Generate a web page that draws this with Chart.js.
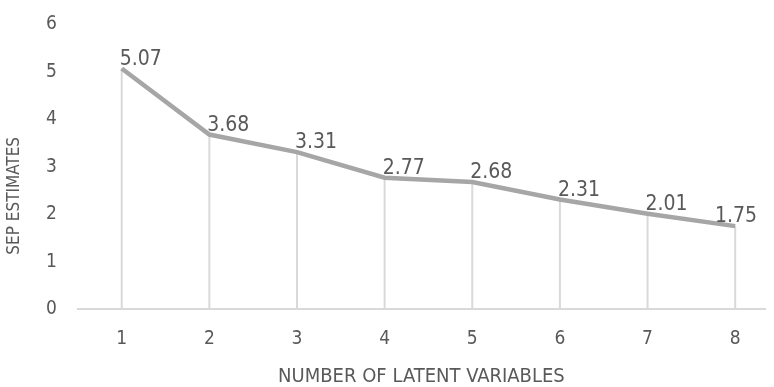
<!DOCTYPE html>
<html>
<head>
<meta charset="utf-8">
<script src="https://cdn.jsdelivr.net/npm/chart.js@4"></script>
<style>
  html, body { margin: 0; padding: 0; background: #fff; }
  #wrap { width: 774px; height: 387px; }
</style>
</head>
<body>
<div id="wrap"><canvas id="myChart" width="774" height="387"></canvas></div>
<script>
// ---- Data ----
const latentVars = [1, 2, 3, 4, 5, 6, 7, 8];
const sepValues  = [5.07, 3.68, 3.31, 2.77, 2.68, 2.31, 2.01, 1.75];
const yTicks     = [0, 1, 2, 3, 4, 5, 6];
const xTitle     = "NUMBER OF LATENT VARIABLES";
const yTitle     = "SEP ESTIMATES";

const textColor = "#595959";
const fontFam   = "'DejaVu Sans Condensed', 'DejaVu Sans', sans-serif";

// ---- Drop lines, value labels, y title ----
const dropLines = {
  id: "dropLines",
  beforeDatasetsDraw(chart) {
    const { ctx, scales: { y } } = chart;
    const meta = chart.getDatasetMeta(0);
    ctx.save();
    ctx.strokeStyle = "#d9d9d9";
    ctx.lineWidth = 2;
    meta.data.forEach(pt => {
      ctx.beginPath();
      ctx.moveTo(pt.x, pt.y);
      ctx.lineTo(pt.x, y.getPixelForValue(0));
      ctx.stroke();
    });
    ctx.restore();
  },
  afterDatasetsDraw(chart) {
    const { ctx, chartArea } = chart;
    const meta = chart.getDatasetMeta(0);
    ctx.save();
    ctx.fillStyle = textColor;
    ctx.font = "21px " + fontFam;
    ctx.textAlign = "left";
    ctx.textBaseline = "alphabetic";
    meta.data.forEach((pt, i) => {
      const txt = sepValues[i].toFixed(2);
      const w = ctx.measureText(txt).width;
      // keep the label inside the chart, like Excel does for the last point
      const lx = Math.min(pt.x - 2, chart.width - 17 - w);
      ctx.fillText(txt, lx, pt.y - 4);
    });
    // y axis title (Excel places it a bit below centre)
    ctx.translate(15, (chartArea.top + chartArea.bottom) / 2 + 29);
    ctx.rotate(-Math.PI / 2);
    ctx.textAlign = "center";
    ctx.textBaseline = "middle";
    ctx.font = "17px " + fontFam;
    ctx.fillText(yTitle, 0, 0);
    ctx.restore();
  }
};

new Chart(document.getElementById("myChart"), {
  type: "line",
  data: {
    datasets: [{
      data: latentVars.map((v, i) => ({ x: v, y: sepValues[i] })),
      borderColor: "#a6a6a6",
      borderWidth: 4.5,
      pointRadius: 0,
      tension: 0,
      fill: false
    }]
  },
  options: {
    responsive: false,
    animation: false,
    layout: { padding: { top: -2, right: 9, left: 33, bottom: 0 } },
    plugins: {
      legend: { display: false },
      tooltip: { enabled: false }
    },
    scales: {
      x: {
        type: "linear",
        min: 0.5,
        max: 8.34,
        afterBuildTicks: axis => { axis.ticks = latentVars.map(v => ({ value: v })); },
        grid: { display: false },
        border: { color: "#d9d9d9", width: 2 },
        ticks: {
          color: textColor,
          font: { family: fontFam, size: 19 },
          padding: 10,
          maxRotation: 0
        },
        title: {
          display: true,
          text: xTitle,
          color: textColor,
          font: { family: fontFam, size: 20, lineHeight: 1 },
          padding: { top: 7, bottom: 0 }
        }
      },
      y: {
        min: 0,
        max: 6,
        afterBuildTicks: axis => { axis.ticks = yTicks.map(v => ({ value: v })); },
        grid: { display: false },
        border: { display: false },
        ticks: {
          color: textColor,
          font: { family: fontFam, size: 19 },
          padding: 13
        }
      }
    }
  },
  plugins: [dropLines]
});
</script>
</body>
</html>
